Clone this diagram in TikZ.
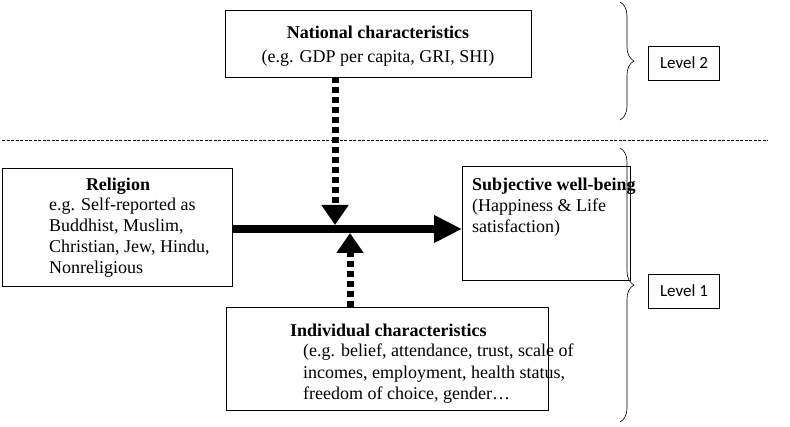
\documentclass[tikz,border=0pt]{standalone}
\usepackage{fontspec}
\setmainfont{Liberation Serif}
\newfontfamily\calib{Carlito}
\usetikzlibrary{arrows.meta,decorations.pathreplacing}
\begin{document}
\begin{tikzpicture}[x=1pt,y=-1pt,
  box/.style={draw,line width=0.8pt},
  txt/.style={font=\fontsize{18}{20}\selectfont,inner sep=0pt,anchor=west},
  lvl/.style={draw,line width=0.6pt,font=\calib\fontsize{17}{19}\selectfont,minimum width=71pt,minimum height=34pt},
  brc/.style={decorate,decoration={brace,amplitude=14pt,aspect=0.5},line width=0.6pt},
  big/.style={line width=8pt,-{Triangle[width=26pt,length=28pt]}},
  dot/.style={line width=7pt,dash pattern=on 6pt off 4pt,-{Triangle[width=26pt,length=20pt]}}]
\useasboundingbox (0,0) rectangle (790,427);
\draw[box] (225,10) rectangle (531,77);
\node[txt,anchor=center] (n1) at (378,32) {\textbf{National characteristics}};
\node[txt,anchor=center] (n2) at (378,58) {(e.g. GDP per capita, GRI, SHI)};
\draw[brc] (620,2) -- (620,120);
\node[lvl] (l2) at (684,63) {Level 2};
\draw[dash pattern=on 3pt off 1.5pt,line width=0.7pt] (2,140) -- (768,140);
\draw[brc] (620,148) -- (620,422);
\node[lvl] (l1) at (684,291) {Level 1};
\draw[box] (2,168) rectangle (232,286);
\node[txt,anchor=center] (r1) at (118,186) {\textbf{Religion}};
\node[txt] (r2) at (49,206) {e.g. Self-reported as};
\node[txt] (r3) at (49,227) {Buddhist, Muslim,};
\node[txt] (r4) at (49,248) {Christian, Jew, Hindu,};
\node[txt] (r5) at (49,269) {Nonreligious};
\draw[box] (462,166) rectangle (630,280);
\node[txt] (s1) at (472,186) {\textbf{Subjective well-being}};
\node[txt] (s2) at (472,207) {(Happiness \& Life};
\node[txt] (s3) at (472,228) {satisfaction)};
\draw[box] (226,307) rectangle (548,410);
\node[txt] (i1) at (290,330) {\textbf{Individual characteristics}};
\node[txt] (i2) at (303,352) {(e.g. belief, attendance, trust, scale of};
\node[txt] (i3) at (303,374) {incomes, employment, health status,};
\node[txt] (i4) at (303,395) {freedom of choice, gender…};
\coordinate (ra) at (232,229);
\coordinate (sa) at (462,229);
\draw[big] (ra) -- (sa);
\coordinate (nd) at (335,77);
\coordinate (ne) at (335,225);
\draw[dot] (nd) -- (ne);
\coordinate (iu) at (350,307);
\coordinate (ie) at (350,233);
\draw[dot] (iu) -- (ie);
\end{tikzpicture}
\end{document}
